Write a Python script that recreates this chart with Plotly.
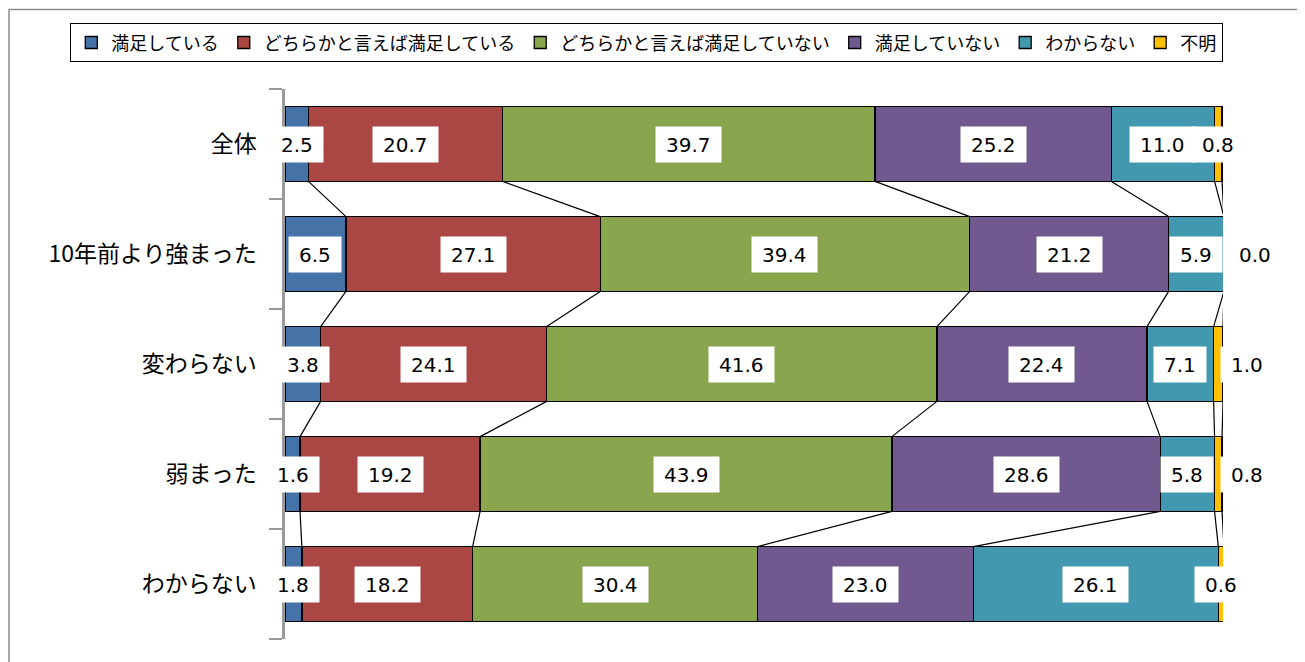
import plotly.graph_objects as go

categories = ["全体", "10年前より強まった", "変わらない", "弱まった", "わからない"]
series_names = ["満足している", "どちらかと言えば満足している", "どちらかと言えば満足していない",
                "満足していない", "わからない", "不明"]
satisfied = [2.5, 6.5, 3.8, 1.6, 1.8]
rather_satisfied = [20.7, 27.1, 24.1, 19.2, 18.2]
rather_unsatisfied = [39.7, 39.4, 41.6, 43.9, 30.4]
unsatisfied = [25.2, 21.2, 22.4, 28.6, 23.0]
dont_know = [11.0, 5.9, 7.1, 5.8, 26.1]
unknown = [0.8, 0.0, 1.0, 0.8, 0.6]

series_values = [satisfied, rather_satisfied, rather_unsatisfied, unsatisfied, dont_know, unknown]
colors = ["#4572A7", "#AA4643", "#89A54E", "#71588F", "#4198AF", "#FFC000"]

# page has an 8px body margin; size the figure so the page is 1305x662
OFF = 8
W, H = 1305 - OFF, 662 - OFF
ML, MR, MT, MB = 285 - OFF, 82, 89 - OFF, 23
PW, PH = W - ML - MR, H - MT - MB
BAR_W = 0.68
XMAX = 100
ypos = list(range(len(categories)))

fig = go.Figure()

# bars
for name, vals, col in zip(series_names, series_values, colors):
    fig.add_trace(go.Bar(
        y=ypos, x=vals, name=name, orientation="h", width=BAR_W,
        marker=dict(color=col, line=dict(color="#000000", width=1.3)),
        hoverinfo="x+name",
    ))

# cumulative sums
cums = []
run = [0.0] * len(categories)
for vals in series_values:
    run = [r + v for r, v in zip(run, vals)]
    cums.append(list(run))

# series lines (connect segment ends between adjacent bars)
for cum in cums:
    xs, ys = [], []
    for i in range(len(categories) - 1):
        xs += [cum[i], cum[i + 1], None]
        ys += [ypos[i] + BAR_W / 2, ypos[i + 1] - BAR_W / 2, None]
    fig.add_trace(go.Scatter(x=xs, y=ys, mode="lines", showlegend=False, hoverinfo="skip",
                             line=dict(color="#000000", width=1.2)))

# data labels
label_shift = {(5, 1): 32, (5, 2): 29, (5, 3): 29}
for s, vals in enumerate(series_values):
    for i, v in enumerate(vals):
        txt = f"{v:.1f}"
        xc = min(cums[s][i] - v / 2, XMAX)
        nd = sum(c.isdigit() for c in txt)
        wbox = nd * 12.7 + 6.4 + 20
        fig.add_annotation(
            x=xc, y=ypos[i], xref="x", yref="y", text=txt, showarrow=False,
            font=dict(family="DejaVu Sans", size=20, color="#000000"),
            bgcolor="#FFFFFF", borderpad=0, width=wbox, height=35,
            xshift=label_shift.get((s, i), 0), align="center", valign="middle",
        )

# helpers: page pixel -> paper coords
def px_x(p):
    return (p - OFF - ML) / PW

def px_y(p):
    return (H - MB - (p - OFF)) / PH

# outer chart border
fig.add_shape(type="rect", xref="paper", yref="paper",
              x0=px_x(9), x1=px_x(1303.5), y0=px_y(668), y1=px_y(9.5),
              line=dict(color="#8C8C8C", width=1.5), fillcolor="rgba(0,0,0,0)", layer="below")

fig.update_layout(
    width=W, height=H,
    margin=dict(l=ML, r=MR, t=MT, b=MB, autoexpand=False),
    barmode="stack", bargap=0.32,
    plot_bgcolor="#FFFFFF", paper_bgcolor="#FFFFFF",
    showlegend=True,
    legend=dict(
        orientation="h",
        x=px_x(70), xanchor="left", y=px_y(23), yanchor="top",
        bordercolor="#000000", borderwidth=1.3, bgcolor="#FFFFFF",
        font=dict(family="Noto Sans CJK JP", size=18, color="#000000"),
        traceorder="normal", itemwidth=30, tracegroupgap=0,
    ),
    xaxis=dict(range=[0, XMAX], visible=False, fixedrange=True),
    yaxis=dict(
        range=[len(categories) - 0.5, -0.5],
        tickvals=ypos, ticktext=categories, ticks="",
        tickfont=dict(family="Noto Sans CJK JP", size=23, color="#000000"),
        showline=True, linecolor="#9A9A9A", linewidth=2.5,
        showgrid=False, zeroline=False, ticklabelstandoff=21,
        minor=dict(tickvals=[i - 0.5 for i in range(len(categories) + 1)],
                   ticks="outside", ticklen=13, tickcolor="#9A9A9A", tickwidth=2, showgrid=False),
    ),
)

fig.write_html("out.html")
